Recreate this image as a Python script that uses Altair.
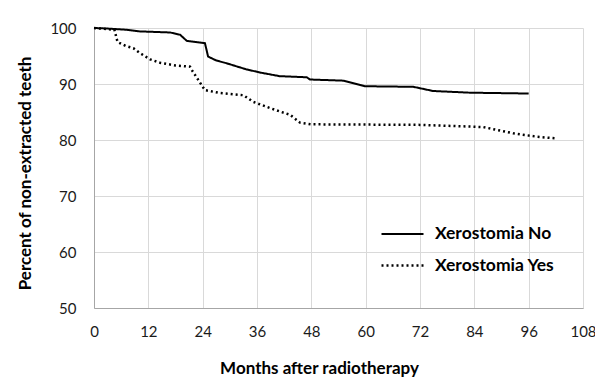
import altair as alt
import pandas as pd

series_names = ["Xerostomia No", "Xerostomia Yes"]

no_months = [0, 3, 7, 10, 16.8, 19, 20.5, 24.5, 25.2, 27, 29.3, 33.7, 37, 41, 47, 47.7, 55, 59.8, 70.5, 74.9, 83, 96]
no_pct = [100, 99.9, 99.7, 99.4, 99.2, 98.8, 97.7, 97.3, 94.9, 94.2, 93.7, 92.6, 92.0, 91.4, 91.2, 90.8, 90.6, 89.6, 89.5, 88.75, 88.45, 88.3]

yes_months = [0, 4.5, 5.2, 7, 8.7, 10, 12.4, 14.6, 18, 21.2, 21.6, 24.5, 27.8, 33, 35.2, 38.9, 41, 43.3, 45.5, 48, 72, 83, 86, 92.6, 97.7, 101.8]
yes_pct = [100, 99.7, 97.5, 96.8, 96.4, 95.6, 94.4, 93.8, 93.3, 93.1, 92.5, 88.9, 88.4, 88.0, 86.8, 85.7, 85.1, 84.5, 83.1, 82.8, 82.7, 82.4, 82.3, 81.2, 80.6, 80.3]

x_ticks = [0, 12, 24, 36, 48, 60, 72, 84, 96, 108]
y_ticks = [50, 60, 70, 80, 90, 100]

df = pd.concat([
    pd.DataFrame({"month": no_months, "pct": no_pct, "series": series_names[0]}),
    pd.DataFrame({"month": yes_months, "pct": yes_pct, "series": series_names[1]}),
])

FONT = "Lato"

chart = alt.Chart(df).mark_line(color="black", strokeCap="butt").encode(
    x=alt.X("month:Q",
            scale=alt.Scale(domain=[0, 108], nice=False, zero=False),
            axis=alt.Axis(values=x_ticks, title="Months after radiotherapy",
                          titleX=225, titleY=60, titleBaseline="middle",
                          labelPadding=16, labelFlush=False)),
    y=alt.Y("pct:Q",
            scale=alt.Scale(domain=[50, 100], nice=False, zero=False),
            axis=alt.Axis(values=y_ticks, title="Percent of non-extracted teeth",
                          titleX=-69, titleY=145, titleAngle=-90, titleBaseline="middle",
                          titleAlign="center", labelPadding=18)),
    strokeDash=alt.StrokeDash("series:N",
                              scale=alt.Scale(domain=series_names, range=[[1, 0], [2, 3]]),
                              legend=alt.Legend(title=None, orient="none", legendX=286, legendY=184,
                                                symbolType="stroke", symbolSize=1764,
                                                symbolStrokeColor="black", symbolStrokeWidth=2,
                                                labelFont=FONT, labelFontSize=17.5, labelFontWeight="bold",
                                                labelColor="black", labelOffset=10, rowPadding=-3,
                                                padding=0)),
    strokeWidth=alt.StrokeWidth("series:N",
                                scale=alt.Scale(domain=series_names, range=[2, 2.5]),
                                legend=None),
).properties(
    width=489, height=280, autosize="none", background="white",
    padding={"left": 94, "top": 28, "right": 12, "bottom": 79},
).configure_view(stroke=None).configure_axis(
    grid=True, gridColor="#d9d9d9", gridWidth=1,
    domain=True, domainColor="#a6a6a6", domainWidth=1,
    ticks=False, labelFont=FONT, labelFontSize=15, labelColor="#1a1a1a",
    titleFont=FONT, titleFontSize=17, titleFontWeight="bold", titleColor="black",
)

chart.save("out.html", embed_options={"renderer": "svg", "actions": False})
